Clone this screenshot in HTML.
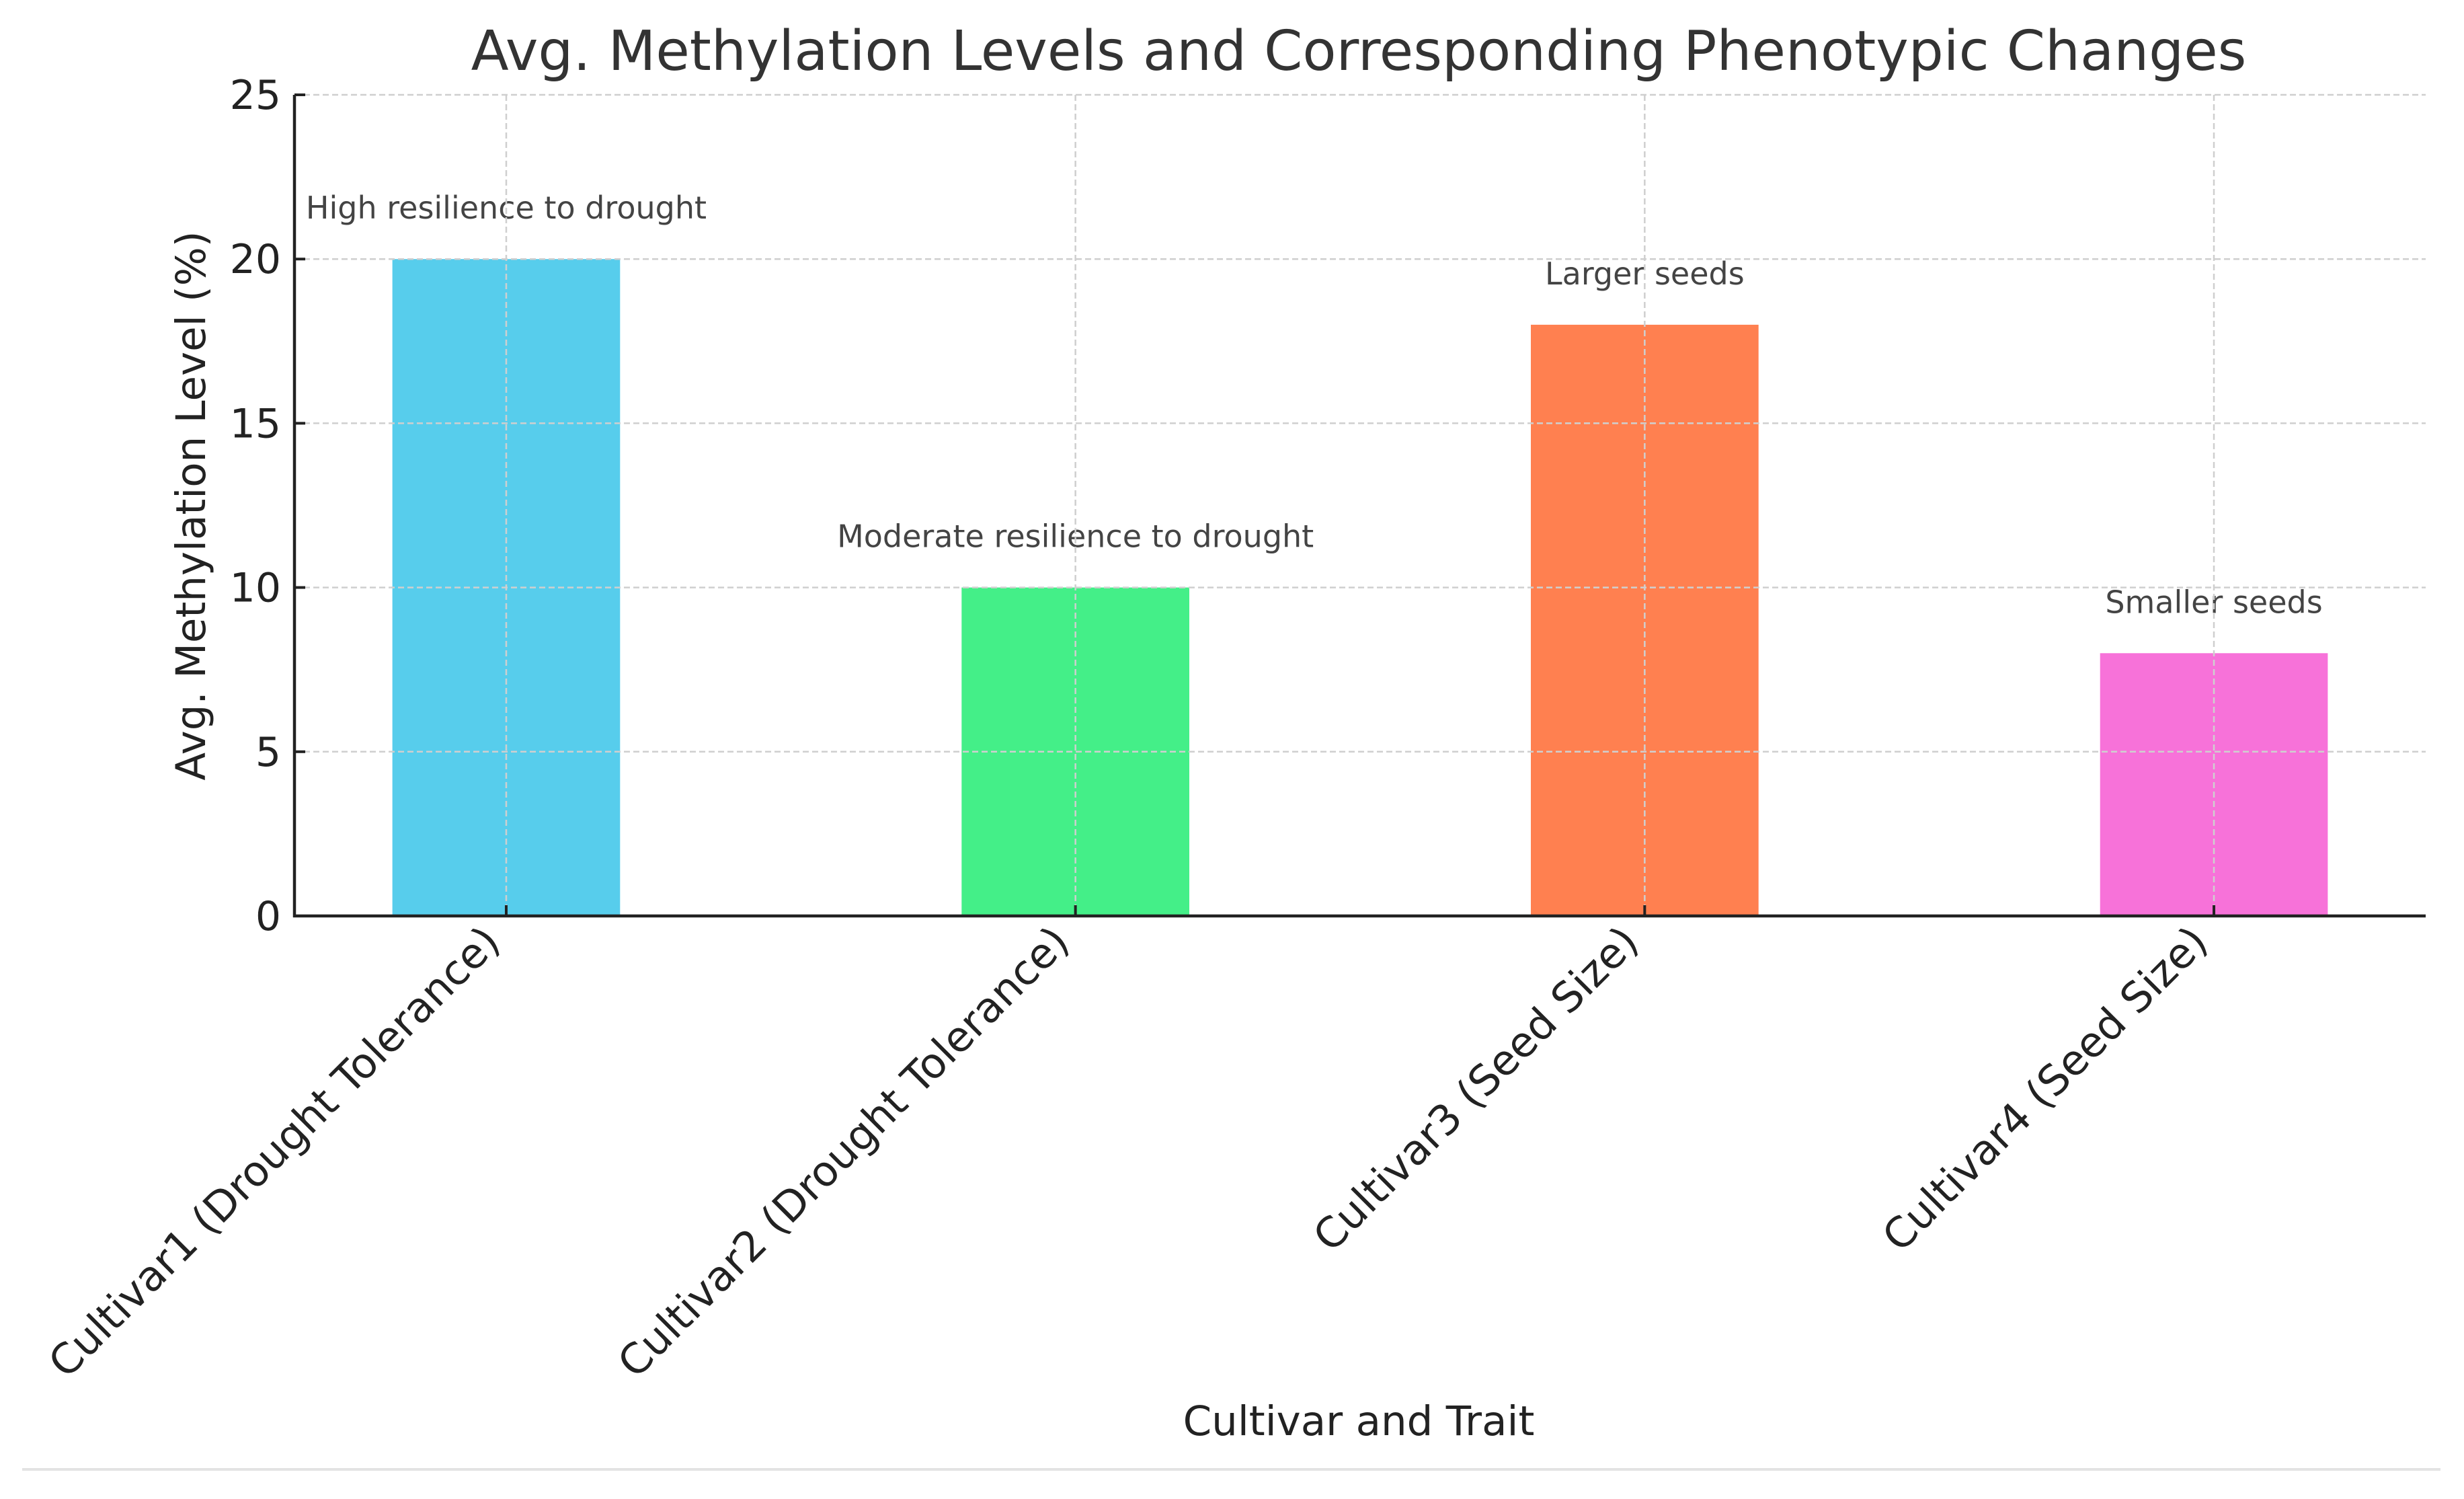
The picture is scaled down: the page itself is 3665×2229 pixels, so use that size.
<!DOCTYPE html>
<html><head><meta charset="utf-8"><style>
html,body{margin:0;padding:0;background:#fff;}
svg{display:block;font-family:"DejaVu Sans","Liberation Sans",sans-serif;}
</style></head><body>
<svg id="chart" width="3665" height="2229" viewBox="0 0 3665 2229" xmlns="http://www.w3.org/2000/svg">
<rect width="3665" height="2229" fill="#fff"/>
<text x="2021" y="104" font-size="82" fill="#333" text-anchor="middle">Avg. Methylation Levels and Corresponding Phenotypic Changes</text>
<g id="grid"></g>
<g id="bars"></g>
<g id="axes"></g>
<text transform="translate(305,752) rotate(-90)" font-size="61" fill="#222" text-anchor="middle">Avg. Methylation Level (%)</text>
<text x="2021" y="2134" font-size="61" fill="#222" text-anchor="middle">Cultivar and Trait</text>
<line x1="33" y1="2185" x2="3630" y2="2185" stroke="#e3e3e3" stroke-width="4"/>
</svg>
<script>
const categories = ["Cultivar1 (Drought Tolerance)","Cultivar2 (Drought Tolerance)","Cultivar3 (Seed Size)","Cultivar4 (Seed Size)"];
const values = [20, 10, 18, 8];
const annotations = ["High resilience to drought","Moderate resilience to drought","Larger seeds","Smaller seeds"];
const colors = ["#57cdec","#44ef88","#ff8050","#f772d9"];
const yTicks = [0,5,10,15,20,25];

const NS = "http://www.w3.org/2000/svg";
const L = 438, R = 3608, T = 141, B = 1362;
const xmin = -0.372, xmax = 3.372, ymax = 25;
const x = i => L + (i - xmin) / (xmax - xmin) * (R - L);
const y = v => B - v / ymax * (B - T);
const bw = 0.4 * (x(1) - x(0));
function mk(tag, attrs, parent, text){
  const e = document.createElementNS(NS, tag);
  for (const k in attrs) e.setAttribute(k, attrs[k]);
  if (text !== undefined) e.textContent = text;
  parent.appendChild(e); return e;
}
const grid = document.getElementById('grid'), bars = document.getElementById('bars'), axes = document.getElementById('axes');
yTicks.forEach(t => {
  const g = mk('line', {x1:L, x2:R, y1:y(t), y2:y(t), stroke:'#cfcfcf', 'stroke-width':2.5, 'stroke-dasharray':'9,5'}, grid);
  
  
  const tk = mk('line', {x1:L, x2:L+16, y1:y(t), y2:y(t), stroke:'#222', 'stroke-width':4}, axes);
  
  
  const lb = mk('text', {x:L-20, y:y(t)+21, 'font-size':60, fill:'#222', 'text-anchor':'end'}, axes, String(t));
  
  
});
categories.forEach((c, i) => {
  const cx = x(i);
  const b = mk('rect', {x:cx-bw/2, y:y(values[i]), width:bw, height:B-y(values[i]), fill:colors[i]}, bars);
  
  
  const g = mk('line', {x1:cx, x2:cx, y1:T, y2:B, stroke:'#cfcfcf', 'stroke-width':2.5, 'stroke-dasharray':'9,5'}, grid);
  
  
  const a = mk('text', {x:cx, y:y(values[i])-60, 'font-size':46, fill:'#444', 'text-anchor':'middle'}, bars, annotations[i]);
  
  
  const tk = mk('line', {x1:cx, x2:cx, y1:B, y2:B-16, stroke:'#222', 'stroke-width':4}, axes);
  
  
  const lb = mk('text', {transform:`translate(${cx-6},${B+42}) rotate(-45)`, 'font-size':62, fill:'#222', 'text-anchor':'end'}, axes, c);
  
  
});
grid.parentNode.insertBefore(bars, grid);
const ax = mk('line', {x1:L, x2:L, y1:T, y2:B+2, stroke:'#222', 'stroke-width':4.5}, axes);


const bx = mk('line', {x1:L-2, x2:R, y1:B, y2:B, stroke:'#222', 'stroke-width':4.5}, axes);


</script>
</body></html>
